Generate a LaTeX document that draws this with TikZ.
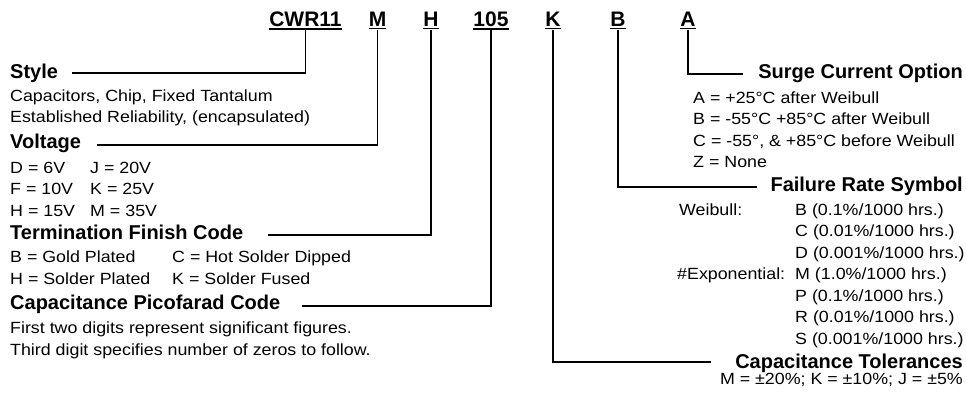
\documentclass[tikz,border=0pt]{standalone}
\usepackage{fontspec}
\setmainfont{Liberation Sans}
\newfontfamily\regfont{Liberation Sans}[FakeStretch=1.1]
\begin{document}
\begin{tikzpicture}[x=1pt,y=-1pt,
  codetxt/.style={font=\bfseries\fontsize{21}{25}\selectfont, inner sep=0pt, anchor=base},
  lblw/.style={font=\bfseries\fontsize{20}{24}\selectfont, inner sep=0pt, anchor=base west},
  lble/.style={font=\bfseries\fontsize{20}{24}\selectfont, inner sep=0pt, anchor=base east},
  txt/.style={font=\regfont\fontsize{16.2}{20}\selectfont, inner sep=0pt, anchor=base west},
  txte/.style={font=\regfont\fontsize{16.2}{20}\selectfont, inner sep=0pt, anchor=base east},
  conn/.style={line width=1.5pt, line join=miter},
  uline/.style={line width=1.3pt}]
\useasboundingbox[fill=white] (0,0) rectangle (966,394);

% part number codes
\node[codetxt] (cwr) at (305.5,26) {CWR11};
\node[codetxt] (cm)  at (377.5,26) {M};
\node[codetxt] (ch)  at (431,26) {H};
\node[codetxt] (c105) at (491,26) {105};
\node[codetxt] (ck)  at (553,26) {K};
\node[codetxt] (cb)  at (618,26) {B};
\node[codetxt] (ca)  at (688,26) {A};
\foreach \n in {cwr,cm,ch,c105,ck,cb,ca}
  \draw[uline] ([yshift=-2.5pt]\n.south west) -- ([yshift=-2.5pt]\n.south east);

% left labels
\node[lblw] (style) at (10,78) {Style};
\node[txt] (s1) at (10,101) {Capacitors, Chip, Fixed Tantalum};
\node[txt] (s2) at (10,122) {Established Reliability, (encapsulated)};

\node[lblw] (volt) at (10,148) {Voltage};
\node[txt] (v1) at (10,173) {D = 6V};
\node[txt] (v2) at (90,173) {J = 20V};
\node[txt] (v3) at (10,194) {F = 10V};
\node[txt] (v4) at (90,194) {K = 25V};
\node[txt] (v5) at (10,216) {H = 15V};
\node[txt] (v6) at (90,216) {M = 35V};

\node[lblw] (term) at (10,239) {Termination Finish Code};
\node[txt] (t1) at (10,262) {B = Gold Plated};
\node[txt] (t2) at (172,262) {C = Hot Solder Dipped};
\node[txt] (t3) at (10,284) {H = Solder Plated};
\node[txt] (t4) at (172,284) {K = Solder Fused};

\node[lblw] (pico) at (10,309) {Capacitance Picofarad Code};
\node[txt] (p1) at (10,333) {First two digits represent significant figures.};
\node[txt] (p2) at (10,355) {Third digit specifies number of zeros to follow.};

% right labels
\node[lble] (surge) at (963,78) {Surge Current Option};
\node[txt] (g1) at (693,103) {A = +25°C after Weibull};
\node[txt] (g2) at (693,124.5) {B = -55°C +85°C after Weibull};
\node[txt] (g3) at (693,146) {C = -55°, \& +85°C before Weibull};
\node[txt] (g4) at (693,167.5) {Z = None};

\node[lble] (fail) at (963,191) {Failure Rate Symbol};
\node[txt] (f0) at (679,215) {Weibull:};
\node[txt] (f1) at (795,215) {B (0.1\%/1000 hrs.)};
\node[txt] (f2) at (795,236.5) {C (0.01\%/1000 hrs.)};
\node[txt] (f3) at (795,258) {D (0.001\%/1000 hrs.)};
\node[txt] (f4) at (677,279.5) {\#Exponential:};
\node[txt] (f5) at (795,279.5) {M (1.0\%/1000 hrs.)};
\node[txt] (f6) at (795,301) {P (0.1\%/1000 hrs.)};
\node[txt] (f7) at (795,322.5) {R (0.01\%/1000 hrs.)};
\node[txt] (f8) at (795,344) {S (0.001\%/1000 hrs.)};

\node[lble] (tol) at (963,368) {Capacitance Tolerances};
\node[txte] (tl1) at (963,384) {M = ±20\%; K = ±10\%; J = ±5\%};

% connector ends
\coordinate (eStyle) at (72,73);
\coordinate (eVolt)  at (97,145);
\coordinate (eTerm)  at (268,235);
\coordinate (ePico)  at (302,306);
\coordinate (eSurge) at (743,74);
\coordinate (eFail)  at (757,187);
\coordinate (eTol)   at (711,362);

\draw[conn] ([yshift=-4pt]cwr.south) |- (eStyle);
\draw[conn] ([yshift=-4pt]cm.south) |- (eVolt);
\draw[conn] ([yshift=-4pt]ch.south) |- (eTerm);
\draw[conn] ([yshift=-4pt]c105.south) |- (ePico);
\draw[conn] ([yshift=-4pt]ck.south) |- (eTol);
\draw[conn] ([yshift=-4pt]cb.south) |- (eFail);
\draw[conn] ([yshift=-4pt]ca.south) |- (eSurge);
\end{tikzpicture}
\end{document}
